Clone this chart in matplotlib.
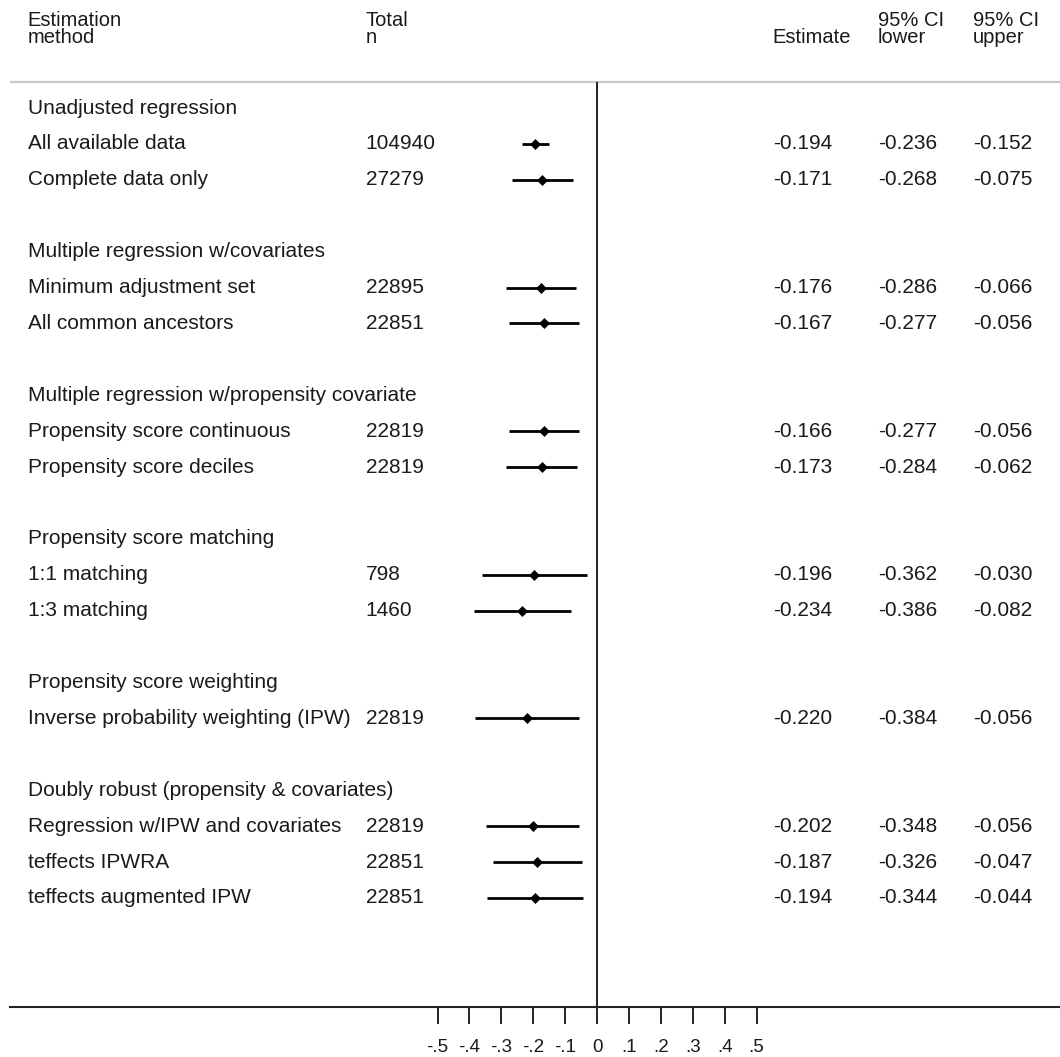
import matplotlib
matplotlib.use("Agg")
import matplotlib.pyplot as plt

# group headings: (row index, title)
group_titles = [
    (0, "Unadjusted regression"),
    (4, "Multiple regression w/covariates"),
    (8, "Multiple regression w/propensity covariate"),
    (12, "Propensity score matching"),
    (16, "Propensity score weighting"),
    (19, "Doubly robust (propensity & covariates)"),
]

rows = [1, 2, 5, 6, 9, 10, 13, 14, 17, 20, 21, 22]
methods = [
    "All available data",
    "Complete data only",
    "Minimum adjustment set",
    "All common ancestors",
    "Propensity score continuous",
    "Propensity score deciles",
    "1:1 matching",
    "1:3 matching",
    "Inverse probability weighting (IPW)",
    "Regression w/IPW and covariates",
    "teffects IPWRA",
    "teffects augmented IPW",
]
total_n = ["104940", "27279", "22895", "22851", "22819", "22819",
           "798", "1460", "22819", "22819", "22851", "22851"]
estimate = [-0.194, -0.171, -0.176, -0.167, -0.166, -0.173,
            -0.196, -0.234, -0.220, -0.202, -0.187, -0.194]
ci_lower = [-0.236, -0.268, -0.286, -0.277, -0.277, -0.284,
            -0.362, -0.386, -0.384, -0.348, -0.326, -0.344]
ci_upper = [-0.152, -0.075, -0.066, -0.056, -0.056, -0.062,
            -0.030, -0.082, -0.056, -0.056, -0.047, -0.044]

tick_vals = [-0.5, -0.4, -0.3, -0.2, -0.1, 0, 0.1, 0.2, 0.3, 0.4, 0.5]
tick_labels = ["-.5", "-.4", "-.3", "-.2", "-.1", "0", ".1", ".2", ".3", ".4", ".5"]

plt.rcParams["font.family"] = ["Liberation Sans", "DejaVu Sans"]
txt = "#1a1a1a"
fs = 15
hfs = 14.5

fig = plt.figure(figsize=(10.6, 10.57), dpi=100)
ax = fig.add_axes([0, 0, 1, 1])
ax.set_xlim(-1.8715, 1.4514)
ax.set_ylim(26.43, -3.008)
for s in ["top", "left", "right"]:
    ax.spines[s].set_visible(False)
ax.set_yticks([])

# column x positions (axes fraction)
x_lab, x_n, x_est, x_lo, x_hi = 0.026, 0.345, 0.729, 0.828, 0.918
tr = ax.get_yaxis_transform()  # x in axes fraction, y in data

h1, h2 = -2.284, -1.811
header = [
    (x_lab, h1, "Estimation"), (x_lab, h2, "method"),
    (x_n, h1, "Total"), (x_n, h2, "n"),
    (x_est, h2, "Estimate"),
    (x_lo, h1, "95% CI"), (x_lo, h2, "lower"),
    (x_hi, h1, "95% CI"), (x_hi, h2, "upper"),
]
for x, y, s in header:
    ax.text(x, y, s, transform=tr, fontsize=hfs, color=txt, va="baseline")

# header separator and zero line
axis_y = 25.04
ax.hlines(-0.72, -1.84, 1.4514, color="#c8c8c8", lw=1.6)
ax.vlines(0, -0.72, axis_y, color="#222222", lw=1.4)

for r, title in group_titles:
    ax.text(x_lab, r, title, transform=tr, fontsize=fs, color=txt, va="center")

for r, m, n, e, lo, hi in zip(rows, methods, total_n, estimate, ci_lower, ci_upper):
    ax.text(x_lab, r, m, transform=tr, fontsize=fs, color=txt, va="center")
    ax.text(x_n, r, n, transform=tr, fontsize=fs, color=txt, va="center")
    ax.text(x_est, r, f"{e:.3f}", transform=tr, fontsize=fs, color=txt, va="center")
    ax.text(x_lo, r, f"{lo:.3f}", transform=tr, fontsize=fs, color=txt, va="center")
    ax.text(x_hi, r, f"{hi:.3f}", transform=tr, fontsize=fs, color=txt, va="center")

ax.hlines(rows, ci_lower, ci_upper, color="black", lw=2)
ax.plot(estimate, rows, "D", color="black", ms=5.5, mew=0.5, linestyle="none")

# bottom axis
ax.spines["bottom"].set_position(("data", axis_y))
ax.spines["bottom"].set_bounds(-1.84, 1.4514)
ax.spines["bottom"].set_linewidth(1.5)
ax.spines["bottom"].set_color("#222222")
ax.set_xticks(tick_vals)
ax.set_xticklabels(tick_labels)
ax.tick_params(axis="x", direction="out", length=12, width=1.4, color="#222222",
               pad=11, labelsize=13.5, labelcolor=txt)

fig.savefig("out.png", dpi=100)
